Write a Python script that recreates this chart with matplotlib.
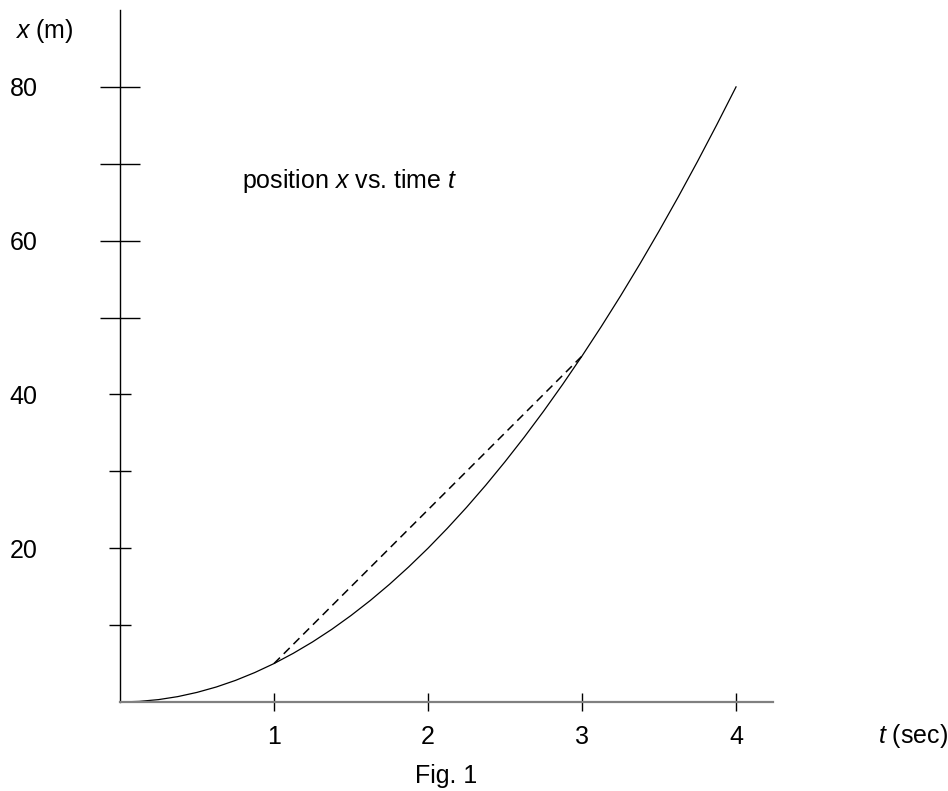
import matplotlib
matplotlib.use("Agg")
import matplotlib.pyplot as plt

plt.rcParams['font.family'] = ['Liberation Sans', 'DejaVu Sans']
plt.rcParams['mathtext.fontset'] = 'custom'
plt.rcParams['mathtext.rm'] = 'Liberation Sans'
plt.rcParams['mathtext.it'] = 'Liberation Sans:italic'

# ---- data ----
t_values = [0, 0.125, 0.25, 0.375, 0.5, 0.625, 0.75, 0.875, 1.0, 1.125, 1.25, 1.375, 1.5,
            1.625, 1.75, 1.875, 2.0, 2.125, 2.25, 2.375, 2.5, 2.625, 2.75, 2.875, 3.0,
            3.125, 3.25, 3.375, 3.5, 3.625, 3.75, 3.875, 4.0]
x_values = [0, 0.08, 0.31, 0.70, 1.25, 1.95, 2.81, 3.83, 5.0, 6.33, 7.81, 9.45, 11.25,
            13.20, 15.31, 17.58, 20.0, 22.58, 25.31, 28.20, 31.25, 34.45, 37.81, 41.33, 45.0,
            48.83, 52.81, 56.95, 61.25, 65.70, 70.31, 75.08, 80.0]
secant_t = [1, 3]
secant_x = [5, 45]
x_ticks = [1, 2, 3, 4]
x_ticklabels = ['1', '2', '3', '4']
y_ticks_long = [50, 60, 70, 80]
y_labels_long = ['', '60', '', '80']
y_ticks_short = [10, 20, 30, 40]
y_labels_short = ['', '20', '', '40']

W, H = 948, 791
fig = plt.figure(figsize=(W / 100, H / 100), dpi=100)
ax = fig.add_axes([120 / W, (H - 702) / H, 653 / W, 692 / H])
ax.set_xlim(0, 4.24)
ax.set_ylim(0, 90)

ax.plot(t_values, x_values, color='black', lw=0.9, clip_on=False)
ax.plot(secant_t, secant_x, color='black', lw=1.1, linestyle=(0, (5.5, 3.5)), clip_on=False)

for s in ['top', 'right']:
    ax.spines[s].set_visible(False)
ax.spines['left'].set_color('black')
ax.spines['left'].set_linewidth(1.0)
ax.spines['bottom'].set_color('#808080')
ax.spines['bottom'].set_linewidth(1.6)

fs = 18
ax.set_xticks(x_ticks, x_ticklabels)
ax.tick_params(axis='x', direction='inout', length=13, width=1.0, color='black',
               pad=10, labelsize=fs)
ax.set_yticks(y_ticks_long, y_labels_long)
ax.set_yticks(y_ticks_short, y_labels_short, minor=True)
ax.tick_params(axis='y', which='major', direction='inout', length=29.5, width=1.0,
               color='black', pad=44.5, labelsize=fs)
ax.tick_params(axis='y', which='minor', direction='inout', length=15.8, width=1.0,
               color='black', pad=51.5, labelsize=fs)
ax.xaxis.set_minor_locator(matplotlib.ticker.NullLocator())

def px(x, y):
    return x / W, 1 - y / H

fig.text(*px(15, 38), r'$x$ (m)', fontsize=fs, ha='left', va='baseline')
fig.text(*px(242, 188), r'position $x$ vs. time $t$', fontsize=fs, ha='left', va='baseline')
fig.text(*px(878, 743), r'$t$ (sec)', fontsize=fs, ha='left', va='baseline')
fig.text(*px(415, 783), 'Fig. 1', fontsize=fs, ha='left', va='baseline')

fig.savefig('out.png', dpi=100)
